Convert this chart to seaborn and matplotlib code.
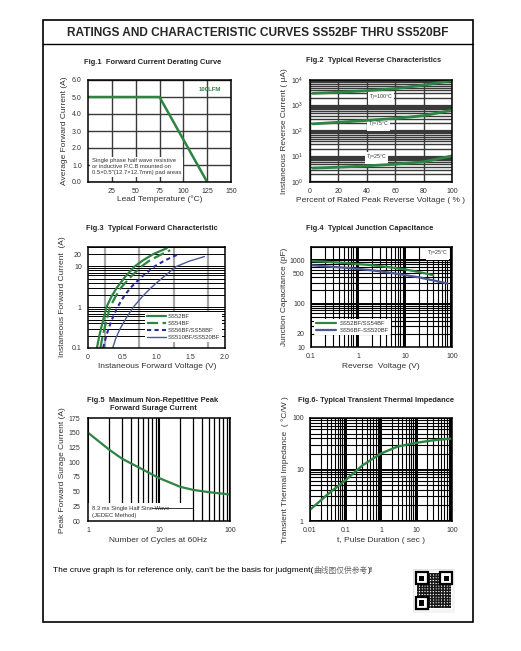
import matplotlib
matplotlib.use('Agg')
import matplotlib.pyplot as plt
from matplotlib.ticker import LogLocator, NullFormatter, FixedLocator, FixedFormatter
from matplotlib.patches import Rectangle
from matplotlib.lines import Line2D
import seaborn as sns

sns.set_style('white')
plt.rcParams['font.family'] = ['Liberation Sans', 'Noto Sans CJK SC', 'DejaVu Sans']
plt.rcParams['axes.unicode_minus'] = False
plt.rcParams['hatch.linewidth'] = 1.1

# values
# Fig.1 derating
derate_temp = [0, 75, 125]
derate_amp = [5.0, 5.0, 0.0]

# Fig.2 reverse characteristics
rev_pct = [2, 20, 40, 60, 80, 100]
rev_tj100 = [3000, 3300, 3800, 4600, 6300, 9500]
rev_tj75 = [190, 220, 260, 310, 400, 650]
rev_tj25 = [3.5, 3.8, 4.3, 5.0, 6.2, 10.5]

# Fig.3 forward characteristic
fwd_ss52_v = [0.13, 0.16, 0.19, 0.23, 0.27, 0.34, 0.42, 0.54, 0.68, 0.80, 0.95, 1.15]
fwd_ss52_i = [0.1, 0.18, 0.3, 0.55, 1, 1.8, 3, 5.5, 10, 14, 20, 28]
fwd_ss54_v = [0.18, 0.21, 0.24, 0.28, 0.32, 0.40, 0.48, 0.62, 0.78, 0.90, 1.05, 1.20]
fwd_ss54_i = [0.1, 0.18, 0.3, 0.55, 1, 1.8, 3, 5.5, 10, 14, 19, 25]
fwd_ss56_v = [0.22, 0.26, 0.30, 0.36, 0.43, 0.52, 0.62, 0.78, 0.97, 1.12, 1.32]
fwd_ss56_i = [0.1, 0.18, 0.3, 0.55, 1, 1.8, 3, 5.5, 10, 14, 20]
fwd_ss510_v = [0.36, 0.41, 0.47, 0.56, 0.66, 0.79, 0.92, 1.10, 1.29, 1.48, 1.70]
fwd_ss510_i = [0.1, 0.18, 0.3, 0.55, 1, 1.8, 3, 5.5, 10, 13.5, 17.5]
fwd_names = ['SS52BF', 'SS54BF', 'SS56BF/SS58BF', 'SS510BF/SS520BF']

# Fig.4 junction capacitance
cap_a_v = [0.1, 0.2, 0.5, 1, 2, 5, 10, 20, 40]
cap_a_pf = [950, 920, 860, 810, 760, 680, 610, 530, 450]
cap_b_v = [0.1, 0.2, 0.5, 1, 2, 5, 10, 20, 40, 80]
cap_b_pf = [760, 720, 670, 630, 580, 510, 450, 400, 340, 290]
cap_names = ['SS52BF/SS54BF', 'SS56BF-SS520BF']

# Fig.5 surge current
surge_cycles = [1, 2, 3, 5, 10, 20, 30, 50, 100]
surge_amp = [150, 121, 106, 92, 73, 58, 53, 49, 45]

# Fig.6 transient thermal impedance
zth_t = [0.01, 0.03, 0.1, 0.3, 1, 3, 10, 30, 100]
zth_val = [1.65, 3.2, 6.2, 12, 20.5, 28, 33, 37, 40]

GREEN = '#2e8442'
NAVY = '#2b2ba0'
SLATE = '#4c5a96'
W, H = 521, 651
fig = plt.figure(figsize=(W / 100, H / 100), dpi=100)


def px_axes(l, t, r, b):
    return fig.add_axes([l / W, 1 - b / H, (r - l) / W, (b - t) / H])


def ftext(x, y, s, **kw):
    kw.setdefault('ha', 'center')
    kw.setdefault('va', 'center')
    return fig.text(x / W, 1 - y / H, s, **kw)


def style(ax):
    for s in ax.spines.values():
        s.set_color('black')
        s.set_linewidth(1.1)
        s.set_zorder(6)
    ax.tick_params(which='both', labelsize=5, length=2, width=0.6, colors='#333333', pad=2.5)
    ax.tick_params(which='minor', length=0)
    ax.set_xlabel('')
    ax.set_ylabel('')
    ax.set_axisbelow(True)


def log_grid(ax, axis, color='black', lw_major=1.4, lw_minor=0.8):
    a = ax.xaxis if axis == 'x' else ax.yaxis
    a.set_minor_locator(LogLocator(base=10, subs=range(2, 10)))
    a.set_minor_formatter(NullFormatter())
    ax.grid(True, which='major', axis=axis, color=color, lw=lw_major)
    ax.grid(True, which='minor', axis=axis, color=color, lw=lw_minor)


# page frame
fig.add_artist(Rectangle((43 / W, 1 - 622 / H), 430 / W, 602 / H, transform=fig.transFigure,
                         fill=False, ec='black', lw=1.2))
fig.add_artist(Line2D([43 / W, 473 / W], [1 - 44 / H, 1 - 44 / H], transform=fig.transFigure,
                      color='black', lw=1.0))
ftext(258, 33, 'RATINGS AND CHARACTERISTIC CURVES SS52BF THRU SS520BF',
      fontsize=8.6, fontweight='bold')

# ---------------- Fig.1
ax1 = px_axes(88, 80, 231, 182)
sns.lineplot(x=derate_temp, y=derate_amp, ax=ax1, color=GREEN, lw=1.8, zorder=4)
ax1.set_xlim(0, 150)
ax1.set_ylim(0, 6)
ax1.set_xticks([25, 50, 75, 100, 125, 150])
ax1.set_yticks([0, 1, 2, 3, 4, 5, 6])
ax1.set_yticklabels(['%.1f' % v for v in range(7)])
ax1.grid(True, color='#3a3a3a', lw=1.0)
style(ax1)
ax1.text(128, 5.45, '100LFM', color=GREEN, fontsize=4.3, fontweight='bold', ha='center', va='center')
ax1.text(4, 0.9, 'Single phase half wave resistive\nor inductive P.C.B mounted on\n'
         '0.5\u00d70.5"(12.7\u00d712.7mm) pad areas', fontsize=4.2, color='#333333',
         ha='left', va='center', linespacing=1.25,
         bbox=dict(fc='white', ec='none', pad=1.0), zorder=3)
ftext(153, 62, 'Fig.1  Forward Current Derating Curve', fontsize=5.4, fontweight='bold')
ftext(160, 199, 'Lead Temperature (\u00b0C)', fontsize=6, color='#333333')
ftext(65, 131, 'Average Forward Current (A)', fontsize=6, color='#333333', rotation=90)

# ---------------- Fig.2
ax2 = px_axes(310, 80, 452, 182)
for vals in [rev_tj100, rev_tj75, rev_tj25]:
    sns.lineplot(x=rev_pct, y=vals, ax=ax2, color=GREEN, lw=2.0, zorder=4)
ax2.set_yscale('log')
ax2.set_xlim(0, 100)
ax2.set_ylim(1, 1e4)
ax2.set_xticks([0, 20, 40, 60, 80, 100])
log_grid(ax2, 'y', color='#3a3a3a', lw_major=1.6, lw_minor=1.0)
ax2.grid(True, which='major', axis='x', color='#3a3a3a', lw=1.0)
style(ax2)
for lab, xv, yv in [('T$_J$=100\u00b0C', 50, 1950), ('T$_J$=75\u00b0C', 48, 175),
                    ('T$_J$=25\u00b0C', 47, 8.7)]:
    ax2.text(xv, yv, lab, fontsize=3.8, color='#333333', ha='center', va='center',
             bbox=dict(fc='white', ec='none', pad=0.8), zorder=3)
ftext(374, 61, 'Fig.2  Typical Reverse Characteristics', fontsize=5.4, fontweight='bold')
ftext(381, 200, 'Percent of Rated Peak Reverse Voltage ( % )', fontsize=6, color='#333333')
ftext(285, 131, 'Instaneous Reverse Current ( \u03bcA)', fontsize=6, color='#333333', rotation=90)

# ---------------- Fig.3
ax3 = px_axes(88, 247, 225, 348)
sns.lineplot(x=fwd_ss52_v, y=fwd_ss52_i, ax=ax3, color=GREEN, lw=1.6, sort=False,
             label=fwd_names[0], zorder=4)
sns.lineplot(x=fwd_ss54_v, y=fwd_ss54_i, ax=ax3, color=GREEN, lw=1.6, sort=False,
             linestyle=(0, (5, 2)), label=fwd_names[1], zorder=4)
sns.lineplot(x=fwd_ss56_v, y=fwd_ss56_i, ax=ax3, color=NAVY, lw=1.5, sort=False,
             linestyle=(0, (2, 1.6)), label=fwd_names[2], zorder=4)
sns.lineplot(x=fwd_ss510_v, y=fwd_ss510_i, ax=ax3, color=SLATE, lw=1.0, sort=False,
             label=fwd_names[3], zorder=4)
ax3.set_yscale('log')
ax3.set_xlim(0, 2.0)
ax3.set_ylim(0.1, 30)
ax3.xaxis.set_major_locator(FixedLocator([0, 0.5, 1.0, 1.5, 2.0]))
ax3.xaxis.set_major_formatter(FixedFormatter(['0', '0.5', '1.0', '1.5', '2.0']))
ax3.xaxis.set_minor_locator(FixedLocator([0.25, 0.5, 0.75, 1.0, 1.25, 1.5, 1.75]))
ax3.grid(True, which='minor', axis='x', color='#a8a8a8', lw=1.6)
ax3.yaxis.set_major_locator(FixedLocator([0.1, 1, 10, 20]))
ax3.yaxis.set_major_formatter(FixedFormatter(['0.1', '1', '10', '20']))
ax3.yaxis.set_minor_locator(LogLocator(base=10, subs=range(2, 10)))
ax3.yaxis.set_minor_formatter(NullFormatter())
ax3.grid(True, which='both', axis='y', color='black', lw=0.7)
style(ax3)
leg = ax3.legend(loc='lower right', bbox_to_anchor=(1.0, 0.03), fontsize=4.2, frameon=True,
                 handlelength=3.2, labelspacing=0.35, borderpad=0.3, handletextpad=0.4)
leg.get_frame().set_edgecolor('none')
leg.get_frame().set_facecolor('white')
leg.get_frame().set_alpha(1)
leg.set_zorder(5)
for t in leg.get_texts():
    t.set_color('#333333')
ftext(152, 228, 'Fig.3  Typical Forward Characteristic', fontsize=5.4, fontweight='bold')
ftext(157, 367, 'Instaneous Forward Voltage (V)', fontsize=6, color='#333333')
ftext(62, 297, 'Instaneous Forward Current  (A)', fontsize=6, color='#333333', rotation=90)

# ---------------- Fig.4
ax4 = px_axes(311, 247, 452, 347)
sns.lineplot(x=cap_a_v, y=cap_a_pf, ax=ax4, color=GREEN, lw=1.6, label=cap_names[0], zorder=4)
sns.lineplot(x=cap_b_v, y=cap_b_pf, ax=ax4, color=SLATE, lw=1.6, label=cap_names[1], zorder=4)
ax4.set_xscale('log')
ax4.set_yscale('log')
ax4.set_xlim(0.1, 100)
ax4.set_ylim(10, 2000)
ax4.xaxis.set_major_locator(FixedLocator([0.1, 1, 10, 100]))
ax4.xaxis.set_major_formatter(FixedFormatter(['0.1', '1', '10', '100']))
log_grid(ax4, 'x')
ax4.yaxis.set_major_locator(FixedLocator([10, 20, 100, 500, 1000]))
ax4.yaxis.set_major_formatter(FixedFormatter(['10', '20', '100', '500', '1000']))
ax4.yaxis.set_minor_locator(LogLocator(base=10, subs=range(2, 10)))
ax4.yaxis.set_minor_formatter(NullFormatter())
ax4.grid(True, which='minor', axis='y', color='black', lw=0.8)
ax4.grid(True, which='major', axis='y', color='black', lw=0.8)
for yv in [100, 1000]:
    ax4.axhline(yv, color='black', lw=1.4, zorder=0.5)
style(ax4)
leg4 = ax4.legend(loc='lower left', bbox_to_anchor=(0.0, 0.09), fontsize=4.2, frameon=True,
                  handlelength=3.5, labelspacing=0.35, borderpad=0.35, handletextpad=0.5)
leg4.get_frame().set_edgecolor('none')
leg4.get_frame().set_facecolor('white')
leg4.get_frame().set_alpha(1)
leg4.set_zorder(5)
for t in leg4.get_texts():
    t.set_color('#333333')
ax4.text(0.97, 0.93, 'T$_J$=25\u00b0C', transform=ax4.transAxes, fontsize=3.8, color='#333333',
         ha='right', va='center', bbox=dict(fc='white', ec='none', pad=0.8), zorder=3)
ftext(370, 228, 'Fig.4  Typical Junction Capacitance', fontsize=5.4, fontweight='bold')
ftext(381, 367, 'Reverse  Voltage (V)', fontsize=6, color='#333333')
ftext(285, 297, 'Junction Capacitance (pF)', fontsize=6, color='#333333', rotation=90)

# ---------------- Fig.5
ax5 = px_axes(88, 418, 230, 521)
sns.lineplot(x=surge_cycles, y=surge_amp, ax=ax5, color=GREEN, lw=1.6, zorder=4)
ax5.set_xscale('log')
ax5.set_xlim(1, 100)
ax5.set_ylim(0, 175)
ax5.xaxis.set_major_locator(FixedLocator([1, 10, 100]))
ax5.xaxis.set_major_formatter(FixedFormatter(['1', '10', '100']))
log_grid(ax5, 'x', lw_major=1.5, lw_minor=0.9)
ax5.set_yticks([0, 25, 50, 75, 100, 125, 150, 175])
ax5.set_yticklabels(['00', '25', '50', '75', '100', '125', '150', '175'])
style(ax5)
ax5.tick_params(axis='y', length=3, width=0.8)
ax5.add_patch(Rectangle((0, 0), 0.73, 0.175, transform=ax5.transAxes, fc='white', ec='none', zorder=2))
ax5.text(0.03, 0.125, '8.3 ms Single Half Sine Wave', transform=ax5.transAxes, fontsize=4.2,
         color='#333333', ha='left', va='center', zorder=3)
ax5.text(0.03, 0.055, '(JEDEC Method)', transform=ax5.transAxes, fontsize=4.2,
         color='#333333', ha='left', va='center', zorder=3)
ax5.add_line(Line2D([0.45, 0.73], [0.125, 0.125], transform=ax5.transAxes, color='#333333',
                    lw=0.7, zorder=3))
ftext(153, 400, 'Fig.5  Maximum Non-Repetitive Peak', fontsize=5.4, fontweight='bold')
ftext(153, 409, 'Forward Surage Current', fontsize=5.4, fontweight='bold')
ftext(158, 541, 'Number of Cycles at 60Hz', fontsize=6, color='#333333')
ftext(62, 470, 'Peak Forward Surage Current (A)', fontsize=6, color='#333333', rotation=90)

# ---------------- Fig.6
ax6 = px_axes(310, 418, 452, 521)
sns.lineplot(x=zth_t, y=zth_val, ax=ax6, color=GREEN, lw=1.7, zorder=4)
ax6.set_xscale('log')
ax6.set_yscale('log')
ax6.set_xlim(0.01, 100)
ax6.set_ylim(1, 100)
ax6.xaxis.set_major_locator(FixedLocator([0.01, 0.1, 1, 10, 100]))
ax6.xaxis.set_major_formatter(FixedFormatter(['0.01', '0.1', '1', '10', '100']))
ax6.yaxis.set_major_locator(FixedLocator([1, 10, 100]))
ax6.yaxis.set_major_formatter(FixedFormatter(['1', '10', '100']))
log_grid(ax6, 'x')
log_grid(ax6, 'y')
style(ax6)
ftext(376, 401, 'Fig.6- Typical Transient Thermal Impedance', fontsize=5.4, fontweight='bold')
ftext(381, 540, 't, Pulse Duration ( sec )', fontsize=6, color='#333333')
ftext(285, 470, 'Transient Thermal Impedance  ( \u00b0C/W )', fontsize=6, color='#333333', rotation=90)

# ---------------- footer
t1 = ftext(53, 571, "The cruve graph is for reference only, can't be the basis for judgment(",
           fontsize=6, ha='left', color='black')
fig.canvas.draw()
bb = t1.get_window_extent()
t2 = fig.text(bb.x1 / W, 1 - 571 / H, '\u66f2\u7ebf\u56fe\u4ec5\u4f9b\u53c2\u8003', fontsize=5.6,
              ha='left', va='center', color='#666666', family=['Noto Sans CJK SC', 'DejaVu Sans'])
fig.canvas.draw()
bb2 = t2.get_window_extent()
fig.text(bb2.x1 / W, 1 - 571 / H, ')!', fontsize=6, ha='left', va='center', color='black')

# small QR-like badge
qr = px_axes(413, 569, 455, 613)
qr.set_xlim(0, 1)
qr.set_ylim(0, 1)
qr.axis('off')
qr.add_patch(Rectangle((0, 0), 1, 1, fc='#f4f4f4', ec='#dddddd', lw=0.5))
qr.add_patch(Rectangle((0.07, 0.09), 0.86, 0.84, fc='white', ec='none'))
qr.add_patch(Rectangle((0.09, 0.11), 0.82, 0.8, fc='none', ec='#1a1a1a', hatch='++++++', lw=0))
for (x0, y0) in [(0.07, 0.65), (0.65, 0.65), (0.07, 0.09)]:
    qr.add_patch(Rectangle((x0, y0), 0.28, 0.28, fc='white', ec='black', lw=1.6))
    qr.add_patch(Rectangle((x0 + 0.08, y0 + 0.08), 0.12, 0.12, fc='black', ec='none'))

fig.savefig('out.png', dpi=100)
